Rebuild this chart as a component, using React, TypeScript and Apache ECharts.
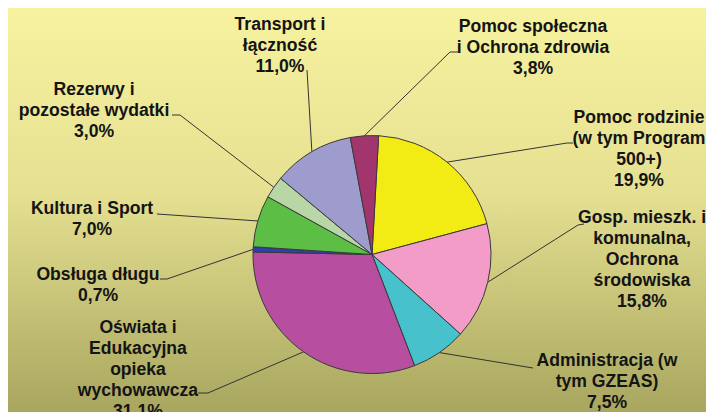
import React, { useEffect, useRef } from "react";
import * as echarts from "echarts";

const categories = [
  "Pomoc rodzinie\n(w tym Program\n500+)",
  "Gosp. mieszk. i\nkomunalna,\nOchrona\nśrodowiska",
  "Administracja (w\ntym GZEAS)",
  "Oświata i\nEdukacyjna\nopieka\nwychowawcza",
  "Obsługa długu",
  "Kultura i Sport",
  "Rezerwy i\npozostałe wydatki",
  "Transport i\nłączność",
  "Pomoc społeczna\ni Ochrona zdrowia",
];
const values = [19.9, 15.8, 7.5, 31.1, 0.7, 7.0, 3.0, 11.0, 3.8];
const colors = [
  "#F2EB14",
  "#F49CC8",
  "#47C1CB",
  "#B74E9F",
  "#2E3FB0",
  "#5DBE45",
  "#B9D6A6",
  "#9D9CCD",
  "#A2346E",
];

// label layout (chart pixel coords): text centre, knee point, end point
const labelPos: number[][] = [
  [631, 140],
  [634, 251],
  [599, 373],
  [130, 361],
  [90, 276],
  [84, 210],
  [86, 102],
  [272, 37],
  [525, 39],
];
const labelKnee: number[][] = [
  [559, 135],
  [570, 217],
  [525, 360],
  [200, 385],
  [159, 271],
  [149, 206],
  [172, 107],
  [299, 62],
  [442, 44],
];
const labelEnd: number[][] = [
  [565, 135],
  [576, 216],
  [525, 360],
  [190, 385],
  [152, 271],
  [149, 206],
  [164, 107],
  [299, 62],
  [450, 44],
];

const CX = 364;
const CY = 246.5;
const R = 119;

export default function App() {
  const ref = useRef<HTMLDivElement>(null);
  useEffect(() => {
    if (!ref.current) return;
    const chart = echarts.init(ref.current, null, { renderer: "svg" });
    const total = values.reduce((a, b) => a + b, 0);
    const startDeg = 3.2; // clockwise from 12 o'clock
    const edgePoints: number[][] = [];
    let acc = 0;
    values.forEach((v) => {
      const mid = startDeg + ((acc + v / 2) / total) * 360;
      const rad = (mid * Math.PI) / 180;
      edgePoints.push([CX + R * Math.sin(rad), CY - R * Math.cos(rad)]);
      acc += v;
    });
    chart.setOption({
      animation: false,
      backgroundColor: new echarts.graphic.LinearGradient(0, 0, 0, 1, [
        { offset: 0, color: "#F7F29F" },
        { offset: 0.45, color: "#E6E192" },
        { offset: 1, color: "#A8A65F" },
      ]),
      series: [
        {
          type: "pie",
          center: [CX, CY],
          radius: R,
          startAngle: 90 - startDeg,
          clockwise: true,
          avoidLabelOverlap: false,
          data: categories.map((name, i) => ({
            name,
            value: values[i],
            itemStyle: { color: colors[i] },
          })),
          itemStyle: { borderColor: "#3a3a3a", borderWidth: 1 },
          label: {
            show: true,
            position: "outside",
            overflow: "none",
            formatter: (p: any) =>
              `${p.name}\n${Number(p.value).toFixed(1).replace(".", ",")}%`,
            fontFamily: "Liberation Sans, Arial, sans-serif",
            fontWeight: "bold",
            fontSize: 17.6,
            lineHeight: 21,
            color: "#141414",
            align: "center",
          },
          labelLine: {
            show: true,
            lineStyle: { color: "#333", width: 1 },
          },
          labelLayout: (params: any) => {
            const i = params.dataIndex;
            return {
              x: labelPos[i][0],
              y: labelPos[i][1],
              align: "center",
              verticalAlign: "middle",
              labelLinePoints: [edgePoints[i], labelKnee[i], labelEnd[i]],
            };
          },
          emphasis: { disabled: true },
        },
      ],
    });
    return () => chart.dispose();
  }, []);
  return <div ref={ref} style={{ width: 706, height: 404 }} />;
}
